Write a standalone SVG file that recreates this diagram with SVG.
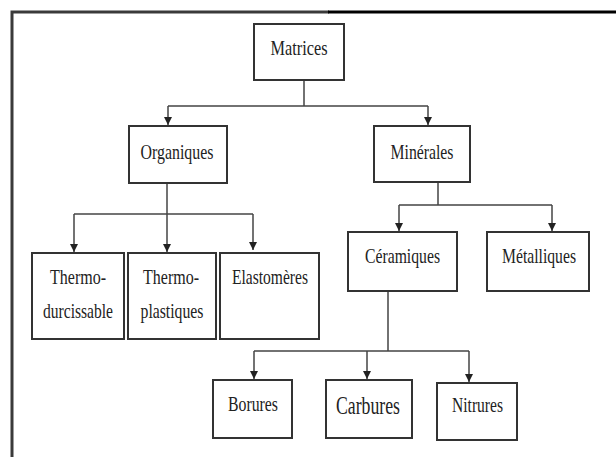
<svg xmlns="http://www.w3.org/2000/svg" width="616" height="457" viewBox="0 0 616 457">
<defs>
<marker id="ah" viewBox="0 0 8 10" refX="8" refY="5" markerWidth="8" markerHeight="10" markerUnits="userSpaceOnUse" orient="auto">
<path d="M0,1 L8,5 L0,9 Z" fill="#222"/>
</marker>
<style>
.box{fill:#fff;stroke:#333;stroke-width:2}
.t{font-family:"Liberation Serif","Times New Roman",serif;font-size:21px;fill:#222;text-anchor:middle}
.c{fill:none;stroke:#444;stroke-width:1.5}
.a{fill:none;stroke:#444;stroke-width:1.5;marker-end:url(#ah)}
</style>
</defs>
<rect width="616" height="457" fill="#fff"/>
<g id="frame">
<path d="M12,457 V12 H329" fill="none" stroke="#3a3a3a" stroke-width="3"/>
<path d="M328,12 H616" fill="none" stroke="#000" stroke-width="3"/>
</g>
<g id="connectors">
<path class="c" d="M304,80 V106 M168,106 H428"/>
<path class="a" d="M168,106 V125"/>
<path class="a" d="M428,106 V125"/>
<path class="c" d="M74,214 H253"/>
<path class="a" d="M167,183 V252"/>
<path class="a" d="M74,214 V252"/>
<path class="a" d="M253,214 V250"/>
<path class="c" d="M438,182 V205 M399,205 H552"/>
<path class="a" d="M399,205 V231"/>
<path class="a" d="M552,205 V231"/>
<path class="c" d="M388,291 V351 M254,351 H469"/>
<path class="a" d="M254,351 V379"/>
<path class="a" d="M367,351 V379"/>
<path class="a" d="M469,351 V382"/>
</g>
<g id="matrices"><rect class="box" x="254" y="24" width="90" height="56"/><text class="t" x="299" y="55" textLength="57" lengthAdjust="spacingAndGlyphs">Matrices</text></g>
<g id="organiques"><rect class="box" x="129" y="126" width="98" height="57"/><text class="t" x="177" y="159" textLength="73" lengthAdjust="spacingAndGlyphs">Organiques</text></g>
<g id="minerales"><rect class="box" x="374" y="126" width="96" height="56"/><text class="t" x="422" y="159" textLength="63" lengthAdjust="spacingAndGlyphs">Minérales</text></g>
<g id="thermodurcissable"><rect class="box" x="32" y="253" width="92" height="86"/><text class="t" x="78" y="284" textLength="56" lengthAdjust="spacingAndGlyphs">Thermo-</text><text class="t" x="78" y="318" textLength="70" lengthAdjust="spacingAndGlyphs">durcissable</text></g>
<g id="thermoplastiques"><rect class="box" x="128" y="253" width="88" height="86"/><text class="t" x="171" y="284" textLength="56" lengthAdjust="spacingAndGlyphs">Thermo-</text><text class="t" x="172" y="318" textLength="63" lengthAdjust="spacingAndGlyphs">plastiques</text></g>
<g id="elastomeres"><rect class="box" x="220" y="253" width="99" height="86"/><text class="t" x="270" y="284" textLength="76" lengthAdjust="spacingAndGlyphs">Elastomères</text></g>
<g id="ceramiques"><rect class="box" x="348" y="232" width="109" height="59"/><text class="t" x="402.5" y="263" textLength="75" lengthAdjust="spacingAndGlyphs">Céramiques</text></g>
<g id="metalliques"><rect class="box" x="487" y="232" width="102" height="59"/><text class="t" x="539" y="263" textLength="74" lengthAdjust="spacingAndGlyphs">Métalliques</text></g>
<g id="borures"><rect class="box" x="213" y="380" width="79" height="58"/><text class="t" x="253" y="411" textLength="50" lengthAdjust="spacingAndGlyphs">Borures</text></g>
<g id="carbures"><rect class="box" x="326" y="380" width="86" height="58"/><text class="t" x="368" y="414" style="font-size:25px" textLength="64" lengthAdjust="spacingAndGlyphs">Carbures</text></g>
<g id="nitrures"><rect class="box" x="437" y="383" width="80" height="57"/><text class="t" x="477.5" y="412" textLength="51" lengthAdjust="spacingAndGlyphs">Nitrures</text></g>
</svg>
